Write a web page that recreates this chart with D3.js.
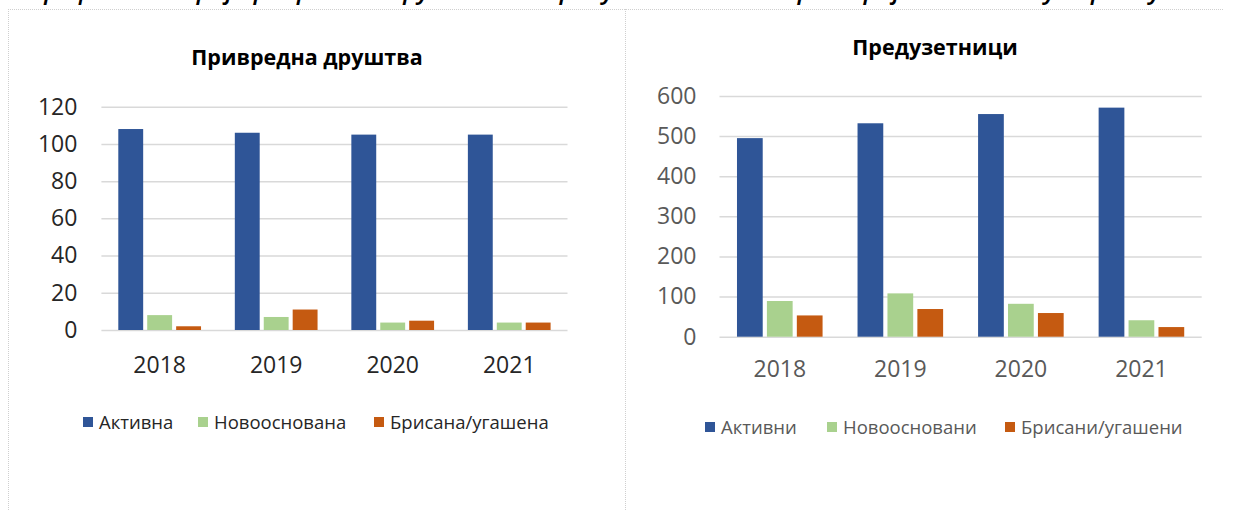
<!DOCTYPE html>
<html>
<head>
<meta charset="utf-8">
<script src="https://cdn.jsdelivr.net/npm/d3@7"></script>
<style>
  body { margin: 0; background: #fff; }
  svg { display: block; font-family: "Open Sans", sans-serif; }
</style>
</head>
<body>
<div id="viz"></div>
<script>
var years = ["2018", "2019", "2020", "2021"];
var seriesKeys = ["a", "n", "b"];
var colors = ["#2F5597", "#A9D18E", "#C55A11"];

// Привредна друштва
var compNames = ["Активна", "Новооснована", "Брисана/угашена"];
var compActive = [108, 106, 105, 105];
var compNew = [8, 7, 4, 4];
var compClosed = [2, 11, 5, 4];
var compTicks = [0, 20, 40, 60, 80, 100, 120];

// Предузетници
var entNames = ["Активни", "Новоосновани", "Брисани/угашени"];
var entActive = [495, 532, 555, 571];
var entNew = [89, 108, 82, 41];
var entClosed = [53, 69, 59, 24];
var entTicks = [0, 100, 200, 300, 400, 500, 600];

var caption = "Графикон 4: Број привредних друштава и предузетника на територији општине у периоду 2018-2021";

var W = 1234, H = 510;
var svg = d3.select("#viz").append("svg").attr("width", W).attr("height", H);

// cut-off caption above the frame
svg.append("text")
    .attr("x", 32).attr("y", -1)
    .style("font-style", "italic")
    .style("font-weight", "600")
    .style("font-size", "25px")
    .attr("fill", "#000")
    .text(caption);

// dotted frame
var frame = svg.append("g").attr("stroke", "#cfcfcf").attr("stroke-dasharray", "1,1").attr("fill", "none");
frame.append("line").attr("x1", 8).attr("x2", 1224).attr("y1", 9.5).attr("y2", 9.5);
frame.append("line").attr("x1", 8.5).attr("x2", 8.5).attr("y1", 9).attr("y2", H);
frame.append("line").attr("x1", 625.5).attr("x2", 625.5).attr("y1", 9).attr("y2", H);

function buildRows(a, n, b) {
    return years.map(function (y, i) {
        return { year: y, a: a[i], n: n[i], b: b[i] };
    });
}

function drawChart(opt) {
    var g = svg.append("g");
    var rows = buildRows(opt.a, opt.n, opt.b);

    var x = d3.scaleBand().domain(years).range([opt.x0, opt.x1]).paddingInner(0.29).paddingOuter(0.145);
    var xs = d3.scaleBand().domain(seriesKeys).range([0, x.bandwidth()]).paddingInner(0.14);
    var y = d3.scaleLinear().domain([0, opt.ticks[opt.ticks.length - 1]]).range([opt.yb, opt.yt]);

    // title
    g.append("text")
        .attr("x", opt.tx).attr("y", opt.ty)
        .attr("text-anchor", "middle")
        .style("font-weight", "bold")
        .style("font-size", "21.5px")
        .attr("fill", "#000")
        .text(opt.title);

    // y axis + gridlines
    var ya = g.append("g")
        .attr("transform", "translate(" + opt.x0 + ",0)")
        .call(d3.axisLeft(y).tickValues(opt.ticks).tickSize(-(opt.x1 - opt.x0)).tickPadding(opt.pad));
    ya.select(".domain").remove();
    ya.selectAll("line").attr("stroke", "#d9d9d9").attr("stroke-width", 1.5);
    ya.selectAll("text")
        .attr("fill", opt.textColor)
        .style("font-size", "23px")
        .style("font-family", "Open Sans");

    // bars
    var grp = g.selectAll(".grp").data(rows).enter().append("g")
        .attr("transform", function (d) { return "translate(" + x(d.year) + ",0)"; });
    grp.selectAll("rect")
        .data(function (d) { return seriesKeys.map(function (k) { return { key: k, value: d[k] }; }); })
        .enter().append("rect")
        .attr("x", function (d) { return xs(d.key); })
        .attr("width", xs.bandwidth())
        .attr("y", function (d) { return y(d.value); })
        .attr("height", function (d) { return opt.yb - y(d.value); })
        .attr("fill", function (d, i) { return colors[i]; });

    // x labels
    var xa = g.append("g")
        .attr("transform", "translate(0," + opt.lb + ")")
        .call(d3.axisBottom(x).tickSize(0).tickPadding(0));
    xa.select(".domain").remove();
    xa.selectAll("text")
        .attr("dy", 0)
        .attr("fill", opt.textColor)
        .style("font-size", "23px")
        .style("font-family", "Open Sans");

    // legend
    var lg = g.selectAll(".lg").data(opt.names).enter().append("g")
        .attr("transform", function (d, i) { return "translate(" + opt.legX[i] + "," + opt.legY + ")"; });
    lg.append("rect")
        .attr("x", 0).attr("y", -5).attr("width", 10).attr("height", 10)
        .attr("fill", function (d, i) { return colors[i]; });
    lg.append("text")
        .attr("x", 16).attr("y", 6.5)
        .style("font-size", "18.5px")
        .attr("fill", opt.textColor)
        .text(function (d) { return d; });
}

drawChart({
    title: "Привредна друштва", tx: 307, ty: 65,
    a: compActive, n: compNew, b: compClosed, ticks: compTicks, names: compNames,
    x0: 101.4, x1: 567.5, yb: 330, yt: 106.7, pad: 24,
    lb: 373,
    legX: [83, 198, 374], legY: 422,
    textColor: "#262626"
});

drawChart({
    title: "Предузетници", tx: 935, ty: 55,
    a: entActive, n: entNew, b: entClosed, ticks: entTicks, names: entNames,
    x0: 719.5, x1: 1201.7, yb: 336.7, yt: 96, pad: 23,
    lb: 376.5,
    legX: [705, 827, 1005], legY: 427,
    textColor: "#595959"
});
</script>
</body>
</html>
